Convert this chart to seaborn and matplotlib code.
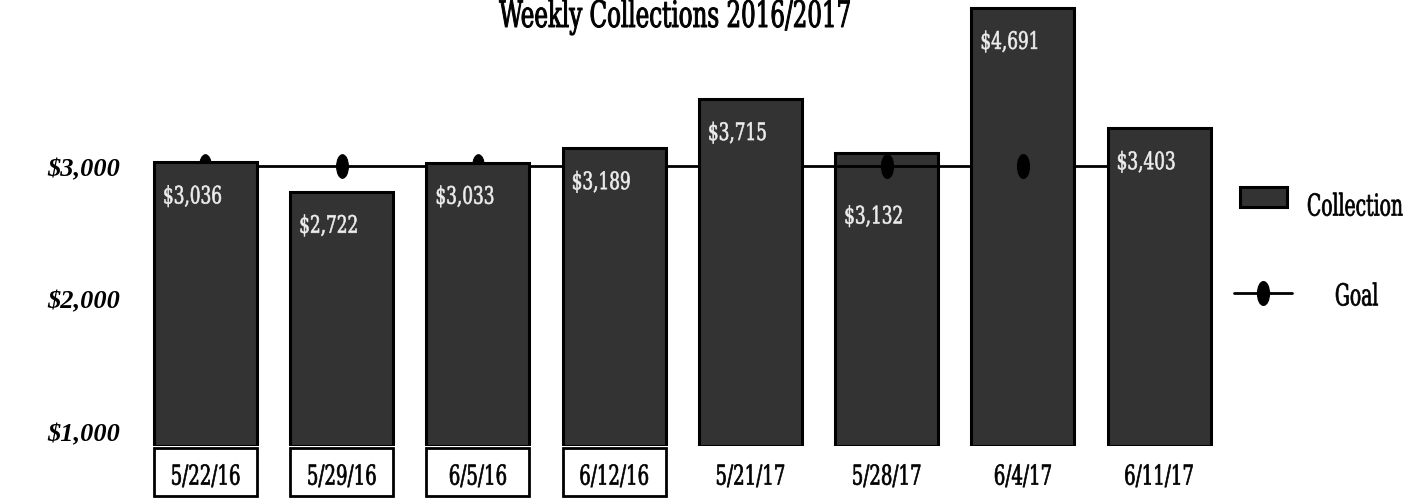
import numpy as np
import matplotlib
matplotlib.use("Agg")
import matplotlib.pyplot as plt
from matplotlib.patches import Patch, Rectangle
from matplotlib.lines import Line2D
from matplotlib.path import Path
from matplotlib import transforms
from matplotlib.patheffects import AbstractPathEffect
from matplotlib.legend_handler import HandlerPatch
import seaborn as sns

# ---- data ----
dates = ["5/22/16", "5/29/16", "6/5/16", "6/12/16", "5/21/17", "5/28/17", "6/4/17", "6/11/17"]
collections = [3036, 2722, 3033, 3189, 3715, 3132, 4691, 3403]
goal = [3000, 3000, 3000, 3000, 3000, 3000, 3000, 3000]
left_ticks = [1000, 2000, 3000]
left_tick_labels = ["$1,000", "$2,000", "$3,000"]
title = "Weekly Collections 2016/2017"


class VStretch(AbstractPathEffect):
    """Draw text taller (stretched upward from its baseline) to mimic a condensed face,
    optionally thickened with a stroke and nudged by (dx, dy) pixels."""
    def __init__(self, sy, stroke=0.0, dx=0.0, dy=0.0):
        super().__init__()
        self.sy, self.stroke, self.dx, self.dy = sy, stroke, dx, dy

    def draw_path(self, renderer, gc, tpath, affine, rgbFace=None):
        aff = (transforms.Affine2D().scale(1, self.sy) + affine
               + transforms.Affine2D().translate(self.dx, self.dy))
        if self.stroke and rgbFace is not None:
            gc0 = renderer.new_gc()
            gc0.copy_properties(gc)
            gc0.set_linewidth(self.stroke)
            gc0.set_foreground(rgbFace)
            gc0.set_joinstyle("round")
            renderer.draw_path(gc0, tpath, aff, rgbFace)
            gc0.restore()
        else:
            renderer.draw_path(gc, tpath, aff, rgbFace)


sns.set_theme(style="white")
plt.rcParams["font.family"] = ["DejaVu Serif"]
for k in ("text.color", "axes.labelcolor", "xtick.color", "ytick.color"):
    plt.rcParams[k] = "black"
COND = dict(family="DejaVu Serif", fontstretch="condensed")

W, H, DPI = 1427, 502, 100
fig = plt.figure(figsize=(W / DPI, H / DPI), dpi=DPI)
ax = fig.add_axes([130 / W, (H - 447) / H, 1100 / W, 447 / H])

n = len(dates)
sns.barplot(x=np.arange(n), y=collections, color="#333333", saturation=1,
            edgecolor="black", linewidth=2.2, width=0.756, ax=ax, zorder=3,
            native_scale=True)

# ellipse marker (taller than wide)
ell = Path.unit_circle().transformed(transforms.Affine2D().scale(0.5, 1.0))

# goal line drawn behind the bars
sns.lineplot(x=np.arange(n), y=goal, color="black", lw=2, marker=ell,
             markersize=17, markeredgecolor="black", markerfacecolor="black",
             ax=ax, zorder=2, legend=False)
# in the reference the goal shows through the 5/28/17 bar and its marker on 6/4/17
ax.plot([5 - 0.378, 5 + 0.378], [goal[5], goal[5]], color="black", lw=2, zorder=4)
ax.plot([5, 6], [goal[5], goal[6]], marker=ell, markersize=17, color="black",
        lw=0, zorder=5)

ax.set_xlim(-0.554, 7.52)
ax.set_ylim(0, 4786)
ax.set_yticks([])
for s in ax.spines.values():
    s.set_visible(False)

ax.set_xticks(np.arange(n))
ax.set_xticklabels(dates, fontsize=14.5, color="black", **COND)
ax.tick_params(axis="x", length=0, pad=17)
for t in ax.get_xticklabels():
    t.set_path_effects([VStretch(1.36, stroke=0.5)])

# boxes around 2016 labels
trans = transforms.blended_transform_factory(ax.transData, ax.transAxes)
for i, d in enumerate(dates):
    if d.endswith("/16"):
        ax.add_patch(Rectangle((i - 0.378, -0.112), 0.756, 0.107, transform=trans,
                               fill=False, edgecolor="black", lw=2, clip_on=False))

# value labels
for i, v in enumerate(collections):
    off = -70 if i == 5 else -41
    ax.annotate(f"${v:,}", xy=(i - 0.378, v), xytext=(9 / 1.389, off / 1.389),
                textcoords="offset points", ha="left", va="baseline",
                color="#eeeeee", fontsize=13.5, zorder=6,
                path_effects=[VStretch(1.28, stroke=0.45)], **COND)

# secondary scale for the left labels
ax2 = ax.twinx()
ax2.set_ylim(887, 4260)
ax2.yaxis.tick_left()
ax2.set_yticks(left_ticks)
ax2.set_yticklabels(left_tick_labels, fontsize=19, fontweight="bold",
                    fontstyle="italic", family="Liberation Serif", color="black")
ax2.tick_params(axis="y", length=0, pad=7)
for s in ax2.spines.values():
    s.set_visible(False)

fig.text(674.5 / W, 1 - 28 / H, title, ha="center", va="baseline", fontsize=18.4,
         path_effects=[VStretch(1.43, stroke=0.7)], **COND)


def small_rect(legend, orig_handle, xdescent, ydescent, width, height, fontsize):
    w = width * 0.8
    return Rectangle((-xdescent + (width - w) / 2, -ydescent), w, height)


handles = [Patch(facecolor="#333333", edgecolor="black", lw=2.2),
           Line2D([0], [0], color="black", lw=2, marker=ell, markersize=17)]
leg = fig.legend(handles, ["Collection", "Goal"], loc="upper left",
                 bbox_to_anchor=(1234 / W, 1 - 188 / H), frameon=False,
                 borderpad=0, borderaxespad=0,
                 prop=dict(size=15, family="DejaVu Serif", stretch="condensed"),
                 handlelength=2.8, handleheight=1.1, labelspacing=3.66, handletextpad=0.7,
                 handler_map={Patch: HandlerPatch(patch_func=small_rect)})
tc, tg = leg.get_texts()
tc.set_path_effects([VStretch(1.45, stroke=0.5, dy=-11.5)])
tg.set_path_effects([VStretch(1.45, stroke=0.5, dx=28, dy=-4)])

fig.savefig("out.png", dpi=DPI)
